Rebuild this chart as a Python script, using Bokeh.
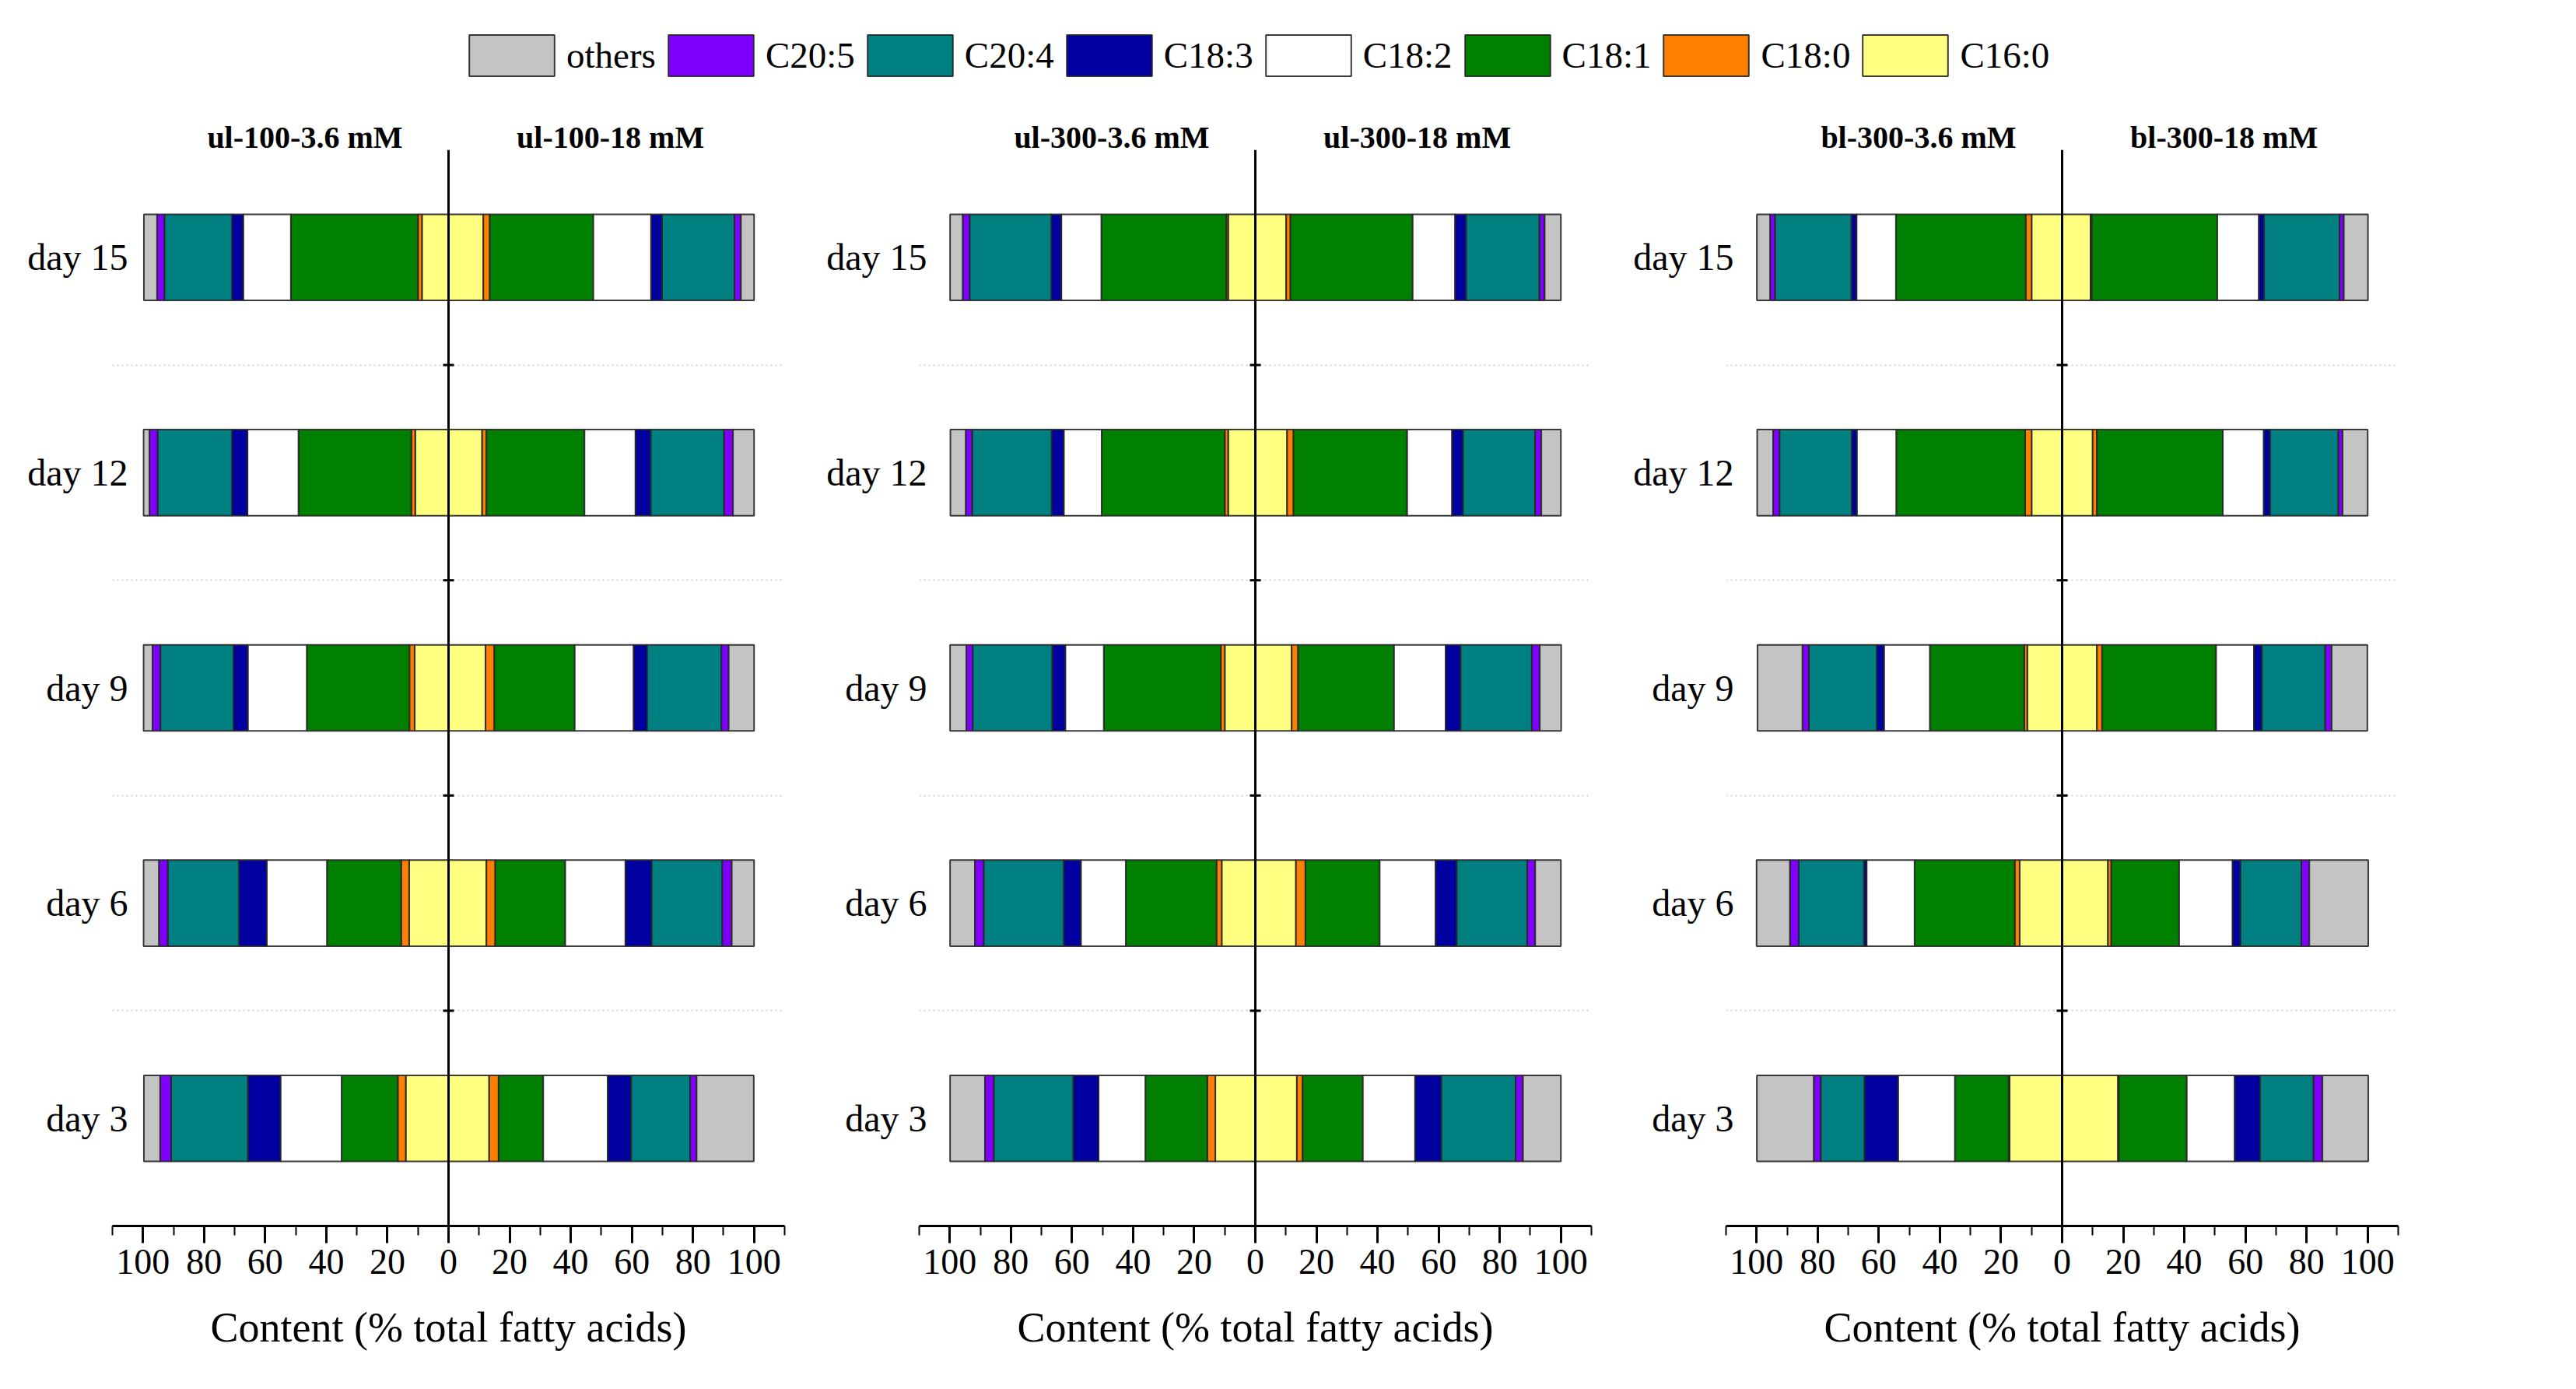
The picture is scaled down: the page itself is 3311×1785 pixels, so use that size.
import numpy as np
from bokeh.plotting import figure
from bokeh.layouts import column, row
from bokeh.models import FixedTicker, LinearAxis, Range1d, Span, Legend, LegendItem
from bokeh.embed import file_html
from bokeh.resources import INLINE

# ---------------- data (values in % of total fatty acids) ----------------
days = ["day 3", "day 6", "day 9", "day 12", "day 15"]
acids = ["C16:0", "C18:0", "C18:1", "C18:2", "C18:3", "C20:4", "C20:5", "others"]
legend_order = ["others", "C20:5", "C20:4", "C18:3", "C18:2", "C18:1", "C18:0", "C16:0"]
colors = {"C16:0": "#FFFF80", "C18:0": "#FF8000", "C18:1": "#008000", "C18:2": "#FFFFFF",
          "C18:3": "#0000A0", "C20:4": "#008080", "C20:5": "#8000FF", "others": "#C4C4C4"}

panel_titles = [("ul-100-3.6 mM", "ul-100-18 mM"),
                ("ul-300-3.6 mM", "ul-300-18 mM"),
                ("bl-300-3.6 mM", "bl-300-18 mM")]

# order of each list: day 3, day 6, day 9, day 12, day 15
ul100_36 = {
    "C16:0": [14.0, 12.9, 11.1, 10.9, 8.7],
    "C18:0": [2.6, 2.6, 1.7, 1.3, 1.3],
    "C18:1": [18.4, 24.3, 33.6, 36.9, 41.6],
    "C18:2": [20.0, 19.7, 19.3, 16.7, 15.6],
    "C18:3": [10.7, 9.1, 4.7, 5.1, 3.7],
    "C20:4": [25.1, 23.3, 23.9, 24.3, 22.1],
    "C20:5": [3.6, 2.9, 2.6, 2.7, 2.4],
    "others": [5.3, 5.0, 2.9, 1.9, 4.3],
}
ul100_18 = {
    "C16:0": [13.3, 12.4, 12.1, 11.0, 11.4],
    "C18:0": [3.1, 2.9, 2.9, 1.4, 2.1],
    "C18:1": [14.6, 22.9, 26.3, 32.1, 33.9],
    "C18:2": [21.1, 19.7, 19.3, 16.7, 18.9],
    "C18:3": [7.7, 8.6, 4.4, 5.0, 3.6],
    "C20:4": [19.3, 23.1, 24.3, 24.0, 23.7],
    "C20:5": [2.1, 3.1, 2.4, 2.9, 2.1],
    "others": [18.7, 7.3, 8.3, 6.9, 4.3],
}
ul300_36 = {
    "C16:0": [13.1, 11.0, 10.0, 8.9, 8.9],
    "C18:0": [2.6, 1.7, 1.3, 1.1, 0.6],
    "C18:1": [20.3, 29.7, 38.3, 40.3, 40.9],
    "C18:2": [15.3, 14.7, 12.6, 12.4, 13.1],
    "C18:3": [8.3, 5.6, 4.3, 4.0, 3.3],
    "C20:4": [26.0, 26.2, 26.0, 26.0, 26.7],
    "C20:5": [2.9, 2.9, 2.1, 2.1, 2.3],
    "others": [11.4, 8.1, 5.3, 5.0, 4.1],
}
ul300_18 = {
    "C16:0": [13.6, 13.3, 11.9, 10.4, 10.1],
    "C18:0": [1.9, 3.1, 2.1, 2.1, 1.4],
    "C18:1": [19.7, 24.3, 31.4, 37.2, 40.0],
    "C18:2": [17.1, 18.3, 16.9, 14.7, 13.9],
    "C18:3": [8.6, 6.9, 4.9, 3.6, 3.6],
    "C20:4": [24.3, 23.1, 23.3, 23.6, 24.0],
    "C20:5": [2.4, 2.6, 2.6, 2.0, 1.7],
    "others": [12.4, 8.4, 7.0, 6.4, 5.3],
}
bl300_36 = {
    "C16:0": [17.2, 13.9, 11.4, 10.0, 10.0],
    "C18:0": [0.3, 1.6, 1.0, 2.1, 1.9],
    "C18:1": [17.6, 32.8, 30.9, 42.2, 42.5],
    "C18:2": [18.6, 15.7, 15.0, 12.9, 12.9],
    "C18:3": [11.0, 0.9, 2.4, 1.7, 1.7],
    "C20:4": [14.3, 21.3, 22.2, 23.6, 25.0],
    "C20:5": [2.3, 2.9, 2.1, 2.1, 1.6],
    "others": [18.6, 10.9, 14.7, 5.2, 4.3],
}
bl300_18 = {
    "C16:0": [18.3, 15.0, 11.4, 10.0, 9.3],
    "C18:0": [0.3, 1.1, 1.7, 1.4, 0.4],
    "C18:1": [22.2, 22.2, 37.3, 41.2, 41.1],
    "C18:2": [15.7, 17.5, 12.4, 13.4, 13.6],
    "C18:3": [8.3, 2.6, 2.6, 2.1, 1.7],
    "C20:4": [17.5, 19.9, 20.7, 22.3, 24.7],
    "C20:5": [2.9, 2.6, 2.1, 1.4, 1.4],
    "others": [15.0, 19.3, 11.7, 8.2, 7.9],
}

x_major = list(range(-100, 101, 20))
x_minor = list(range(-110, 111, 10))

FONT = "Liberation Serif"
ypos = np.arange(1, len(days) + 1, dtype=float)
bounds = list(ypos[:-1] + 0.5)
LINE = "#262626"


def make_panel(left_data, right_data, titles, border_left, width, day_standoff):
    p = figure(width=width, height=1620, x_range=Range1d(-110, 110),
               y_range=Range1d(0.5, len(days) + 0.5),
               output_backend="svg", toolbar_location=None,
               min_border_left=border_left, min_border_right=20,
               min_border_top=54, min_border_bottom=183)
    p.outline_line_color = None
    p.background_fill_color = "white"
    p.xgrid.visible = False
    p.ygrid.ticker = FixedTicker(ticks=bounds)
    p.ygrid.grid_line_dash = "dotted"
    p.ygrid.grid_line_color = "#d4d4d4"
    p.ygrid.grid_line_width = 2

    for sign, data in ((-1, left_data), (1, right_data)):
        cum = np.zeros(len(days))
        for a in acids:
            vals = np.array(data[a], dtype=float)
            start, end = sign * cum, sign * (cum + vals)
            p.hbar(y=ypos, left=np.minimum(start, end), right=np.maximum(start, end),
                   height=0.4, fill_color=colors[a], line_color=LINE,
                   line_width=2, line_alpha=0.9)
            cum = cum + vals

    # x axis
    xa = p.xaxis[0]
    xa.ticker = FixedTicker(ticks=x_major, minor_ticks=x_minor)
    xa.major_label_overrides = {t: str(abs(t)) for t in x_major}
    xa.axis_line_width = 3
    xa.axis_line_color = "black"
    xa.major_tick_line_width = 3
    xa.major_tick_out = 22
    xa.major_tick_in = 0
    xa.minor_tick_line_width = 2
    xa.minor_tick_out = 12
    xa.minor_tick_in = 0
    xa.major_label_text_font = FONT
    xa.major_label_text_font_size = "46px"
    xa.major_label_text_color = "black"
    xa.major_label_standoff = 8
    xa.axis_label = "Content (% total fatty acids)"
    xa.axis_label_text_font = FONT
    xa.axis_label_text_font_style = "normal"
    xa.axis_label_text_font_size = "54px"
    xa.axis_label_text_color = "black"
    xa.axis_label_standoff = 36

    # y axis (day labels)
    ya = p.yaxis[0]
    ya.ticker = FixedTicker(ticks=list(ypos))
    ya.major_label_overrides = {float(v): d for v, d in zip(ypos, days)}
    ya.axis_line_color = None
    ya.major_tick_line_color = None
    ya.minor_tick_line_color = None
    ya.major_label_text_font = FONT
    ya.major_label_text_font_size = "48px"
    ya.major_label_text_color = "black"
    ya.major_label_standoff = day_standoff

    # titles above each half
    top = LinearAxis(ticker=FixedTicker(ticks=[-47, 53]),
                     major_label_overrides={-47: titles[0], 53: titles[1]},
                     axis_line_color=None, major_tick_line_color=None,
                     minor_tick_line_color=None, major_label_standoff=-12,
                     major_label_text_font=FONT, major_label_text_font_style="bold",
                     major_label_text_font_size="40px", major_label_text_color="black")
    p.add_layout(top, "above")

    # central axis with small tick marks between the days
    p.add_layout(Span(location=0, dimension="height", line_color="black", line_width=3))
    p.scatter(x=np.zeros(len(bounds)), y=bounds, marker="dash", size=14,
              line_color="black", line_width=3)
    return p


p1 = make_panel(ul100_36, ul100_18, panel_titles[0], 144, 1028, -26)
p2 = make_panel(ul300_36, ul300_18, panel_titles[1], 153, 1037, -16)
p3 = make_panel(bl300_36, bl300_18, panel_titles[2], 153, 1037, -16)

# legend strip: hidden proxy renderers carrying the first panel's values
pl = figure(width=3102, height=138, x_range=Range1d(0, 1), y_range=Range1d(0, 1),
            output_backend="svg", toolbar_location=None,
            x_axis_type=None, y_axis_type=None, min_border=0)
pl.outline_line_color = None
pl.xgrid.visible = False
pl.ygrid.visible = False
items = []
for a in legend_order:
    r = pl.hbar(y=ypos, left=0, right=ul100_18[a], height=0.4, fill_color=colors[a],
                line_color=LINE, line_width=2, line_alpha=0.9, visible=False)
    items.append(LegendItem(label=a, renderers=[r]))
leg = Legend(items=items, orientation="horizontal", location=(589, 34),
             glyph_width=137, glyph_height=66, label_text_font=FONT,
             label_text_font_size="47px", label_text_color="black",
             spacing=2, label_standoff=2, padding=0, margin=0,
             inactive_fill_alpha=0,
             border_line_color=None, background_fill_alpha=0)
pl.add_layout(leg, "center")

layout = column(pl, row(p1, p2, p3))
open("out.html", "w").write(file_html(layout, INLINE))
